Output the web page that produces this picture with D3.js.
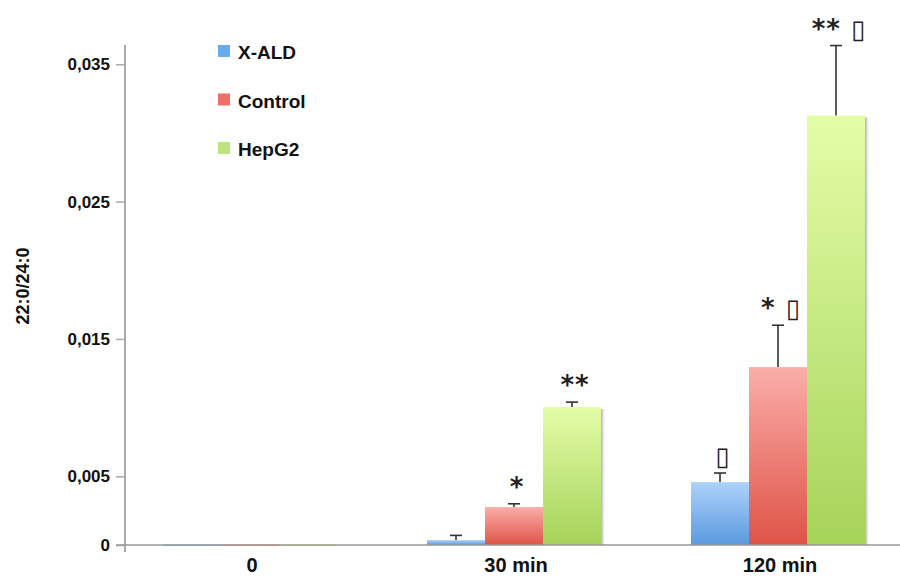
<!DOCTYPE html>
<html>
<head>
<meta charset="utf-8">
<script src="https://cdn.jsdelivr.net/npm/d3@7"></script>
<style>
  body { margin: 0; background: #fff; }
  svg text { font-family: "Liberation Sans", Arial, sans-serif; font-weight: bold; fill: #111; }
</style>
</head>
<body>
<svg id="chart" width="900" height="577"></svg>
<script>
/* DATA */
const categories = ["0", "30 min", "120 min"];
const groups = ["X-ALD", "Control", "HepG2"];
const xald = [0.00005, 0.00036, 0.00458];
const control = [0.00006, 0.00276, 0.01295];
const hepg2 = [0.00005, 0.01004, 0.03127];
const xaldErr = [0, 0.00034, 0.00066];
const controlErr = [0, 0.00024, 0.00305];
const hepg2Err = [0, 0.00036, 0.00509];
const yTicks = [0, 0.005, 0.015, 0.025, 0.035];
// significance marks above bars (▯ stands in for the symbol shown as a box)
const marks = [
  ["", "", ""],
  ["", "*", "**"],
  ["▯", "* ▯", "** ▯"]
];

const values = [xald, control, hepg2];
const errors = [xaldErr, controlErr, hepg2Err];

const colors = {
  "X-ALD": { top: "#aed2fa", bottom: "#5a99df", legend: "#6aaaf0" },
  "Control": { top: "#faaea9", bottom: "#df5347", legend: "#ee6e68" },
  "HepG2": { top: "#e4fda8", bottom: "#a6d35a", legend: "#bde27e" }
};

const margin = { top: 45, left: 125, bottom: 32, right: 0 };
const width = 900, height = 577;
const baseY = 545;

const svg = d3.select("#chart");

/* SCALES */
const yScale = d3.scaleLinear()
  .domain([0, 0.0364])
  .range([baseY, margin.top]);

const xScale = d3.scaleBand()
  .domain(categories)
  .range([margin.left, 903])
  .paddingInner(0.341)
  .paddingOuter(0.144);

const xSub = d3.scaleBand()
  .domain(groups)
  .range([0, xScale.bandwidth()]);

/* GRADIENTS */
const defs = svg.append("defs");
groups.forEach((g, i) => {
  const grad = defs.append("linearGradient")
    .attr("id", "grad" + i)
    .attr("x1", 0).attr("y1", 0).attr("x2", 0).attr("y2", 1);
  grad.append("stop").attr("offset", "0%").attr("stop-color", colors[g].top);
  grad.append("stop").attr("offset", "100%").attr("stop-color", colors[g].bottom);
});
const shadow = defs.append("linearGradient")
  .attr("id", "shadow").attr("x1", 0).attr("x2", 1).attr("y1", 0).attr("y2", 0);
shadow.append("stop").attr("offset", "0%").attr("stop-color", "#888").attr("stop-opacity", 0.7);
shadow.append("stop").attr("offset", "100%").attr("stop-color", "#bbb").attr("stop-opacity", 0);

/* BARS */
const rows = [];
categories.forEach((c, ci) => {
  groups.forEach((g, gi) => {
    rows.push({ cat: c, group: g, gi: gi, v: values[gi][ci], e: errors[gi][ci], mark: marks[ci][gi] });
  });
});

const barG = svg.append("g");

// shadow on the right side of each bar
barG.selectAll("rect.shadow")
  .data(rows)
  .join("rect")
  .attr("class", "shadow")
  .attr("x", d => xScale(d.cat) + xSub(d.group) + xSub.bandwidth())
  .attr("y", d => yScale(d.v) + 2)
  .attr("width", 4)
  .attr("height", d => Math.max(0, baseY - yScale(d.v) - 2))
  .attr("fill", "url(#shadow)");

barG.selectAll("rect.bar")
  .data(rows)
  .join("rect")
  .attr("class", "bar")
  .attr("x", d => xScale(d.cat) + xSub(d.group))
  .attr("y", d => yScale(d.v))
  .attr("width", xSub.bandwidth())
  .attr("height", d => Math.max(1.5, baseY - yScale(d.v)))
  .attr("fill", d => "url(#grad" + d.gi + ")");

/* ERROR BARS */
const errRows = rows.filter(d => d.e > 0);
const errG = svg.append("g").attr("stroke", "#333").attr("stroke-width", 1.6);
errG.selectAll("line.err")
  .data(errRows)
  .join("line")
  .attr("x1", d => xScale(d.cat) + xSub(d.group) + xSub.bandwidth() / 2)
  .attr("x2", d => xScale(d.cat) + xSub(d.group) + xSub.bandwidth() / 2)
  .attr("y1", d => yScale(d.v))
  .attr("y2", d => yScale(d.v + d.e));
errG.selectAll("line.cap")
  .data(errRows)
  .join("line")
  .attr("x1", d => xScale(d.cat) + xSub(d.group) + xSub.bandwidth() / 2 - 6)
  .attr("x2", d => xScale(d.cat) + xSub(d.group) + xSub.bandwidth() / 2 + 6)
  .attr("y1", d => yScale(d.v + d.e))
  .attr("y2", d => yScale(d.v + d.e));

/* SIGNIFICANCE MARKS */
svg.append("g").selectAll("text")
  .data(rows.filter(d => d.mark))
  .join("text")
  .attr("x", d => xScale(d.cat) + xSub(d.group) + xSub.bandwidth() / 2 + 3)
  .attr("y", d => yScale(d.v + d.e) - 8)
  .attr("text-anchor", "middle")
  .attr("font-size", 26)
  .style("font-family", "'DejaVu Sans', sans-serif")
  .style("font-weight", "bold")
  .style("fill", "#222")
  .attr("letter-spacing", 1)
  .text(d => d.mark);

/* AXES */
const yAxis = d3.axisLeft(yScale)
  .tickValues(yTicks)
  .tickSize(9)
  .tickPadding(6)
  .tickFormat(d => d === 0 ? "0" : d3.format(".3f")(d).replace(".", ","));

const yAxisGroup = svg.append("g")
  .attr("transform", `translate(${margin.left},0)`)
  .call(yAxis);
yAxisGroup.select(".domain").remove();
yAxisGroup.selectAll(".tick line").attr("stroke", "#aaa").attr("stroke-width", 1.5);
yAxisGroup.selectAll(".tick text").attr("font-size", 17);

// vertical axis line
svg.append("line")
  .attr("x1", margin.left).attr("x2", margin.left)
  .attr("y1", margin.top).attr("y2", baseY + 7)
  .attr("stroke", "#aaa").attr("stroke-width", 2);

// horizontal axis line
svg.append("line")
  .attr("x1", margin.left - 9).attr("x2", width)
  .attr("y1", baseY).attr("y2", baseY)
  .attr("stroke", "#999").attr("stroke-width", 1.5);

const xAxis = d3.axisBottom(xScale).tickSize(0).tickPadding(13);
const xAxisGroup = svg.append("g")
  .attr("transform", `translate(2,${baseY})`)
  .call(xAxis);
xAxisGroup.select(".domain").remove();
xAxisGroup.selectAll(".tick text").attr("font-size", 20);

// y axis title
svg.append("text")
  .attr("transform", "translate(29,286) rotate(-90)")
  .attr("text-anchor", "middle")
  .attr("font-size", 18)
  .text("22:0/24:0");

/* LEGEND */
const legend = svg.append("g").attr("transform", "translate(218,53)");
const items = legend.selectAll("g")
  .data(groups)
  .join("g")
  .attr("transform", (d, i) => `translate(0,${i * 48.5})`);
items.append("rect")
  .attr("x", 0).attr("y", -8)
  .attr("width", 12).attr("height", 12)
  .attr("fill", d => colors[d].legend);
items.append("text")
  .attr("x", 20).attr("y", 6)
  .attr("font-size", 19)
  .text(d => d);
</script>
</body>
</html>
